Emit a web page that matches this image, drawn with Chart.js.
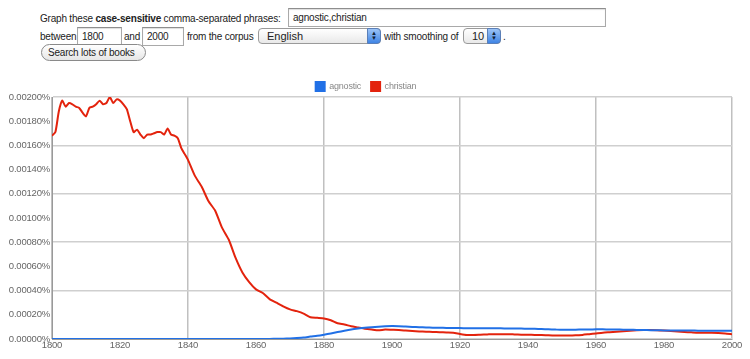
<!DOCTYPE html>
<html>
<head>
<meta charset="utf-8">
<script src="https://cdn.jsdelivr.net/npm/chart.js@4"></script>
<style>
  body { margin: 0; width: 750px; height: 359px; background: #fff; font-family: "Liberation Sans", Arial, sans-serif; font-size: 10px; letter-spacing: -0.2px; color: #222; position: relative; overflow: hidden; }
  .t { position: absolute; white-space: nowrap; }
  .box { position: absolute; border: 1px solid #a9a9a9; border-top-color: #8e8e8e; background: #fff; box-sizing: border-box; padding: 3px 4px; white-space: nowrap; box-shadow: inset 0 1px 1px #ddd; }
  .sel { position: absolute; box-sizing: border-box; border: 1px solid #9a9a9a; border-radius: 4px; background: linear-gradient(#fff, #e9e9e9); font-size: 11px; letter-spacing: 0; padding: 1px 8px; white-space: nowrap; }
  .sel i { position: absolute; right: -1px; top: -1px; bottom: -1px; width: 14px; border-radius: 0 4px 4px 0; background: linear-gradient(#9cc3f5, #3f84e5); border: 1px solid #5a7fb8; box-sizing: border-box; color: #123; font-style: normal; font-size: 6px; line-height: 5px; text-align: center; padding-top: 2px; }
  .btn { position: absolute; box-sizing: border-box; border: 1px solid #8a8a8a; border-radius: 9px; background: linear-gradient(#fff, #e6e6e6); padding: 2px 6px; white-space: nowrap; }
  #wrap { position: absolute; left: 0; top: 72px; width: 750px; height: 287px; }
</style>
</head>
<body>
<div class="t" style="left:40px;top:13px">Graph these <b>case-sensitive</b> comma-separated phrases:</div>
<div class="box" style="left:288px;top:8px;width:318px;height:19px">agnostic,christian</div>
<div class="t" style="left:40px;top:31px">between</div>
<div class="box" style="left:77px;top:27px;width:45px;height:19px">1800</div>
<div class="t" style="left:124px;top:31px">and</div>
<div class="box" style="left:142px;top:27px;width:42px;height:19px">2000</div>
<div class="t" style="left:187px;top:31px">from the corpus</div>
<div class="sel" style="left:258px;top:28px;width:123px;height:16px">English<i>▲<br>▼</i></div>
<div class="t" style="left:384px;top:31px">with smoothing of</div>
<div class="sel" style="left:463px;top:28px;width:38px;height:16px">10<i>▲<br>▼</i></div>
<div class="t" style="left:503px;top:31px">.</div>
<div class="btn" style="left:41px;top:44px;width:105px;height:17px">Search lots of books</div>

<div id="wrap"><canvas id="c"></canvas></div>

<script>
// years sampled: yearly through 1840, then every 2 years
const years = [
  1800,1801,1802,1803,1804,1805,1806,1807,1808,1809,1810,1811,1812,1813,1814,1815,1816,1817,1818,1819,
  1820,1821,1822,1823,1824,1825,1826,1827,1828,1829,1830,1831,1832,1833,1834,1835,1836,1837,1838,1839,
  1840,1842,1844,1846,1848,1850,1852,1854,1856,1858,1860,1862,1864,1866,1868,1870,1872,1874,1876,1878,
  1880,1882,1884,1886,1888,1890,1892,1894,1896,1898,1900,1902,1904,1906,1908,1910,1912,1914,1916,1918,
  1920,1922,1924,1926,1928,1930,1932,1934,1936,1938,1940,1942,1944,1946,1948,1950,1952,1954,1956,1958,
  1960,1962,1964,1966,1968,1970,1972,1974,1976,1978,1980,1982,1984,1986,1988,1990,1992,1994,1996,1998,
  2000
];

// percent values
const christian = [
  0.00168,0.00171,0.00188,0.00197,0.00192,0.00195,0.00194,0.00192,0.00191,0.00187,0.00184,0.00191,0.00192,0.00194,0.00197,0.00194,0.00195,0.00200,0.00195,0.00198,
  0.00197,0.00194,0.00190,0.00180,0.00171,0.00173,0.00169,0.00166,0.00169,0.00169,0.00170,0.00171,0.00171,0.00169,0.00174,0.00169,0.00168,0.00166,0.00158,0.00153,
  0.00148,0.00135,0.00126,0.00114,0.00106,0.00092,0.00082,0.00067,0.00055,0.00047,0.00041,0.00038,0.00033,0.00030,0.00027,0.000245,0.00023,0.00021,0.00018,0.000175,
  0.00017,0.000155,0.00013,0.00012,0.000105,0.000095,0.000085,0.000078,0.000072,0.000078,0.000076,0.000074,0.00007,0.000066,0.000063,0.00006,0.000058,0.000056,0.000054,0.000052,
  0.000042,0.000034,0.000034,0.000036,0.000038,0.00004,0.00004,0.00004,0.000038,0.000036,0.000035,0.000034,0.000033,0.00003,0.000028,0.000028,0.000028,0.00003,0.000034,0.00004,
  0.000046,0.000052,0.000056,0.00006,0.000065,0.000069,0.000072,0.000074,0.000074,0.000073,0.00007,0.000066,0.000062,0.000058,0.000055,0.000052,0.000052,0.000052,0.00005,0.000046,
  0.00004
];

const agnostic = [
  0,0,0,0,0,0,0,0,0,0,0,0,0,0,0,0,0,0,0,0,
  0,0,0,0,0,0,0,0,0,0,0,0,0,0,0,0,0,0,0,0,
  0,0,0,0,0,0,0,0,0,0,0,0,0,0.000002,0.000003,0.000005,0.000008,0.000012,0.00002,0.000027,
  0.000036,0.000046,0.000057,0.000068,0.000078,0.000086,0.000093,0.000098,0.000102,0.000105,0.000107,0.000106,0.000103,0.0001,0.000098,0.000096,0.000094,0.000093,0.000091,0.00009,
  0.00009,0.000089,0.000089,0.000089,0.000089,0.000088,0.000088,0.000087,0.000086,0.000086,0.000085,0.000084,0.000082,0.00008,0.000078,0.000076,0.000076,0.000077,0.000078,0.000079,
  0.00008,0.00008,0.000079,0.000078,0.000077,0.000076,0.000075,0.000074,0.000073,0.000072,0.000071,0.000071,0.00007,0.00007,0.00007,0.000069,0.000069,0.000069,0.000069,0.000069,
  0.000069
];

const Y_STEP = 0.0002;
const AXIS_FONT = { family: '"Liberation Sans", Arial, sans-serif', size: 9.5 };

const toPts = arr => arr.map((v, i) => ({ x: years[i], y: v }));

// pull the plot area a bit closer to the legend
const legendTrim = {
  id: 'legendTrim',
  beforeUpdate(chart) {
    const lg = chart.legend;
    if (!lg || lg._trimmed) return;
    const fit = lg.fit;
    lg.fit = function () { fit.call(this); this.height -= 4; };
    lg._trimmed = true;
  },
};

new Chart(document.getElementById('c'), {
  type: 'line',
  data: {
    datasets: [
      { label: 'agnostic', data: toPts(agnostic), borderColor: '#2170e6', backgroundColor: '#2170e6', borderWidth: 2, pointRadius: 0, tension: 0.2 },
      { label: 'christian', data: toPts(christian), borderColor: '#e3230d', backgroundColor: '#e3230d', borderWidth: 2, pointRadius: 0, tension: 0.2 },
    ],
  },
  plugins: [legendTrim],
  options: {
    responsive: true,
    maintainAspectRatio: false,
    animation: false,
    layout: { padding: { top: 0, right: 18, left: 0, bottom: 0 } },
    plugins: {
      legend: {
        position: 'top',
        labels: { boxWidth: 9, boxHeight: 9, padding: 10, color: '#888', font: { ...AXIS_FONT, size: 9 } },
      },
      tooltip: { enabled: false },
    },
    scales: {
      x: {
        type: 'linear', min: 1800, max: 2000,
        ticks: { stepSize: 20, color: '#666', font: AXIS_FONT, padding: 1, maxRotation: 0, callback: v => String(v) },
        grid: {
          drawTicks: false,
          color: ctx => ((ctx.tick.value - 1800) % 40 === 0 ? '#c0c0c0' : 'rgba(0,0,0,0)'),
          lineWidth: 1.5,
        },
        border: { color: '#999', width: 1 },
        afterFit: s => { s.height = 20; },
      },
      y: {
        min: 0, max: 0.002,
        ticks: { stepSize: Y_STEP, color: '#666', font: AXIS_FONT, padding: 2, callback: v => v.toFixed(5) + '%' },
        grid: {
          drawTicks: false,
          color: ctx => (Math.round(ctx.tick.value / Y_STEP) % 2 === 0 ? '#cfcfcf' : 'rgba(0,0,0,0)'),
          lineWidth: 1.5,
        },
        border: { color: '#999', width: 1 },
        afterFit: s => { s.width = 52; },
      },
    },
  },
});
</script>
</body>
</html>
